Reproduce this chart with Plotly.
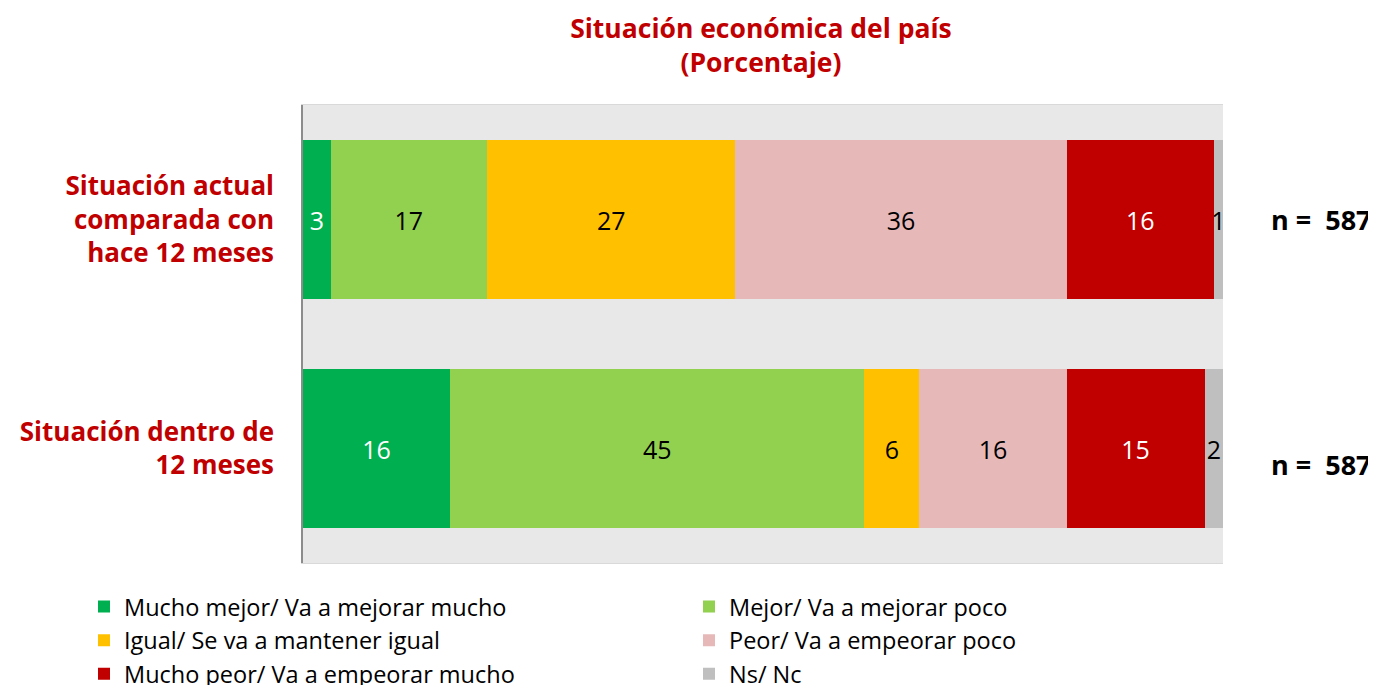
import plotly.graph_objects as go

categories = ["Situación actual<br>comparada con<br>hace 12 meses", "Situación dentro de<br>12 meses"]
series_names = [
    "Mucho mejor/ Va a mejorar mucho",
    "Mejor/ Va a mejorar poco",
    "Igual/ Se va a mantener igual",
    "Peor/ Va a empeorar poco",
    "Mucho peor/ Va a empeorar mucho",
    "Ns/ Nc",
]
mucho_mejor = [3, 16]
mejor = [17, 45]
igual = [27, 6]
peor = [36, 16]
mucho_peor = [16, 15]
ns_nc = [1, 2]
n_values = [587, 587]

series_values = [mucho_mejor, mejor, igual, peor, mucho_peor, ns_nc]
colors = ["#00B050", "#92D050", "#FFC000", "#E6B9B8", "#C00000", "#BFBFBF"]
text_colors = ["white", "black", "black", "black", "white", "black"]

FONT = "Open Sans"
RED = "#C00000"

# page body adds an 8px offset; figure is sized to fill the rest of the window
W, H = 1368, 677
L, R, T, B = 295, 153, 97, 122
PW, PH = W - L - R, H - T - B

fig = go.Figure()
for name, vals, col, tcol in zip(series_names, series_values, colors, text_colors):
    fig.add_trace(go.Bar(
        y=categories, x=vals, name=name, orientation="h",
        marker=dict(color=col, line=dict(width=0)),
        text=vals, textposition="inside", insidetextanchor="middle",
        textfont=dict(family=FONT, size=25, color=tcol),
        constraintext="none", cliponaxis=False,
        width=0.694,
    ))

for i, (cat, n) in enumerate(zip(categories, n_values)):
    fig.add_annotation(
        x=(1261 - L) / PW, xref="paper", y=cat, yref="y", xanchor="left",
        yshift=0 if i == 0 else -15.5,
        text=f"<b>n =&nbsp; {n}</b>", showarrow=False,
        font=dict(family=FONT, size=27, color="black"),
    )

fig.update_layout(
    barmode="stack",
    width=W, height=H,
    margin=dict(l=L, r=R, t=T, b=B, autoexpand=False),
    paper_bgcolor="white",
    plot_bgcolor="#E8E8E8",
    uniformtext=dict(minsize=25, mode="show"),
    title=dict(
        text="<b>Situación económica del país<br>(Porcentaje)</b>",
        x=753 / W, xanchor="center",
        y=1 - 30 / H, yanchor="middle",
        font=dict(family=FONT, size=26.5, color=RED),
    ),
    xaxis=dict(range=[0, 100], showticklabels=False, showgrid=False, zeroline=False,
               showline=True, linecolor="#D9D9D9", mirror=True, fixedrange=True),
    yaxis=dict(autorange="reversed", showgrid=False, zeroline=False,
               showline=True, linecolor="#8C8C8C", linewidth=1.5,
               ticks="", ticklabelstandoff=22,
               tickfont=dict(family=FONT, size=26, color=RED, weight="bold")),
    legend=dict(
        orientation="h", x=(76 - L) / PW, xanchor="left",
        y=-21.8 / PH, yanchor="top",
        entrywidth=560, traceorder="normal",
        font=dict(family=FONT, size=23.5, color="black"),
        bgcolor="rgba(0,0,0,0)",
    ),
    showlegend=True,
)

fig.write_html("out.html")
